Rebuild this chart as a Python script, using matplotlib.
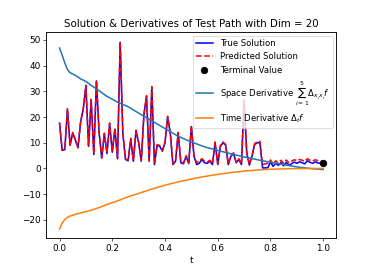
import numpy as np
import matplotlib
matplotlib.use("Agg")
import matplotlib.pyplot as plt

t = np.linspace(0, 1, 101)

true_solution = [
    17.6, 7.0, 7.3, 23.0, 9.0, 13.7, 11.0, 8.0, 18.0, 23.0,
    32.0, 8.6, 26.6, 5.4, 34.0, 14.0, 4.0, 13.4, 5.8, 17.4,
    6.3, 15.3, 3.7, 49.0, 13.8, 3.5, 3.0, 11.4, 2.8, 14.6,
    10.0, 2.8, 20.8, 28.0, 2.8, 31.5, 1.5, 9.0, 8.6, 6.7,
    10.0, 20.0, 13.7, 1.5, 2.8, 13.7, 2.2, 1.8, 4.7, 1.9,
    16.3, 4.7, 1.5, 2.0, 3.5, 2.2, 2.0, 2.8, 1.5, 10.0,
    1.5, 8.6, 10.0, 9.0, 1.5, 4.7, 5.8, 2.2, 3.5, 1.5,
    26.6, 6.0, 1.3, 4.7, 9.3, 10.0, 10.0, 0.2, 0.2, 0.3,
    2.5, 0.8, 2.0, 1.2, 2.3, 1.0, 2.4, 1.2, 1.8, 2.5,
    2.0, 2.6, 2.2, 1.8, 3.0, 2.4, 2.0, 2.6, 2.1, 2.0, 2.0,
]

predicted_solution = [
    17.8, 7.2, 7.5, 23.3, 9.3, 14.0, 11.3, 8.3, 18.3, 23.3,
    32.3, 8.9, 26.9, 5.7, 34.3, 14.3, 4.3, 13.7, 6.1, 17.7,
    6.6, 15.6, 4.0, 49.3, 14.1, 3.8, 3.3, 11.7, 3.1, 14.9,
    10.3, 3.1, 21.1, 28.3, 3.1, 31.8, 1.8, 9.3, 8.9, 7.0,
    10.3, 20.3, 14.0, 1.8, 3.1, 14.0, 2.5, 2.1, 5.0, 2.2,
    16.6, 5.0, 2.2, 3.0, 3.8, 2.8, 2.5, 3.2, 2.0, 10.3,
    1.8, 8.9, 10.3, 9.3, 1.8, 5.0, 6.1, 2.5, 3.8, 1.8,
    26.9, 6.3, 1.6, 5.0, 9.6, 10.5, 10.5, 1.5, 1.8, 2.0,
    3.3, 1.8, 3.0, 2.0, 3.2, 2.0, 3.3, 2.2, 2.8, 3.4,
    3.0, 3.5, 3.2, 2.8, 3.8, 3.2, 2.9, 3.4, 3.0, 2.8, 2.8,
]

terminal_t = [1.0]
terminal_value = [2.0]

deriv_t = [0.0, 0.01, 0.02, 0.03, 0.04, 0.06, 0.08, 0.1, 0.12, 0.15,
           0.18, 0.22, 0.26, 0.3, 0.35, 0.4, 0.45, 0.5, 0.55, 0.6,
           0.65, 0.7, 0.75, 0.8, 0.85, 0.9, 0.95, 1.0]

space_derivative = [46.8, 44.0, 41.0, 38.5, 37.2, 36.2, 34.8, 33.8, 32.3, 30.2,
                    28.0, 25.8, 24.0, 21.5, 18.5, 15.5, 12.5, 10.3, 8.4, 7.0,
                    5.7, 4.5, 3.4, 2.4, 1.5, 0.6, 0.0, -0.4]

time_derivative = [-23.5, -21.2, -19.8, -19.0, -18.5, -17.8, -17.3, -16.8, -16.2, -15.2,
                   -14.0, -12.6, -11.0, -9.7, -8.0, -6.5, -5.2, -4.1, -3.1, -2.3,
                   -1.6, -1.0, -0.6, -0.3, -0.15, -0.05, 0.0, 0.0]

fig = plt.figure(figsize=(6.4, 4.675), dpi=58.4)
ax = fig.add_axes([0.124, 0.127, 0.776, 0.755])

lw = 1.9
ax.plot(t, true_solution, color="b", lw=lw, label="True Solution")
ax.plot(t, predicted_solution, color="r", ls="--", lw=lw, label="Predicted Solution")
ax.plot(terminal_t, terminal_value, "ko", ms=8, label="Terminal Value")
ax.plot(deriv_t, space_derivative, color="#1f77b4", lw=lw,
        label=r"Space Derivative $\sum_{i=1}^{5}\Delta_{x_ix_i}f$")
ax.plot(deriv_t, time_derivative, color="#ff7f0e", lw=lw,
        label=r"Time Derivative $\Delta_t f$")

ax.set_title("Solution & Derivatives of Test Path with Dim = 20", fontsize=12.7)
ax.set_xlabel("t", fontsize=11)
ax.set_xticks([0.0, 0.2, 0.4, 0.6, 0.8, 1.0])
ax.set_yticks([-20, -10, 0, 10, 20, 30, 40, 50])
ax.tick_params(labelsize=11)
for s in ax.spines.values():
    s.set_linewidth(1.1)
ax.legend(loc="upper right", fontsize=10.5, framealpha=0.8, borderaxespad=0.4)

fig.savefig("out.png", dpi=58.4)
